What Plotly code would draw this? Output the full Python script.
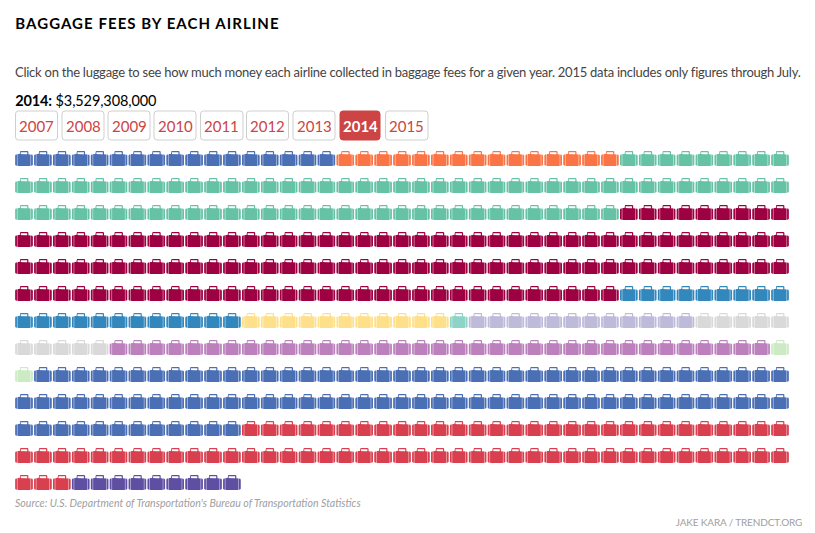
import plotly.graph_objects as go

# Series, in drawing order: number of suitcases for each airline in 2014
counts = [17, 15, 82, 123, 21, 11, 1, 12, 10, 35, 2, 93, 73, 9]
colors = ["#4a6fb5", "#fb7446", "#66c2a5", "#9e0142", "#3288bd", "#fee08b", "#8dd3c7",
          "#bebada", "#d9d9d9", "#bc80bd", "#ccebc5", "#4a6fb5", "#d9404f", "#5e4fa2"]
years = ["2007", "2008", "2009", "2010", "2011", "2012", "2013", "2014", "2015"]
button_left = [15.5, 62, 108, 154, 200.5, 246.5, 293, 340, 385.5]
button_right = [57.5, 104, 150, 196, 243, 288.5, 335, 380, 428]
selected = "2014"

PER_ROW = 41
CELL_W = 18.9
ROW_H = 27
X0 = 15.0
Y0 = 151.0

# suitcase outline pieces, in px relative to the top-left of a cell
PIECES = [
    [(3.0, 3.0), (15.0, 3.0), (15.4, 3.4), (15.4, 14.6), (15.0, 15.0), (3.0, 15.0), (2.6, 14.6), (2.6, 3.4)],
    [(0.9, 3.8), (1.9, 3.4), (1.9, 14.8), (0.9, 14.6), (0.2, 13.8), (0.2, 4.6)],
    [(16.1, 3.4), (17.1, 3.8), (17.8, 4.6), (17.8, 13.8), (17.1, 14.6), (16.1, 14.8)],
    [(4.6, 3.4), (4.6, 0.7), (5.3, 0.0), (12.7, 0.0), (13.4, 0.7), (13.4, 3.4), (12.2, 3.4),
     (12.2, 1.2), (5.8, 1.2), (5.8, 3.4)],
]
# lighter band that fills the slim gaps between a case and its side pockets
TINT = [(0.4, 3.6), (17.6, 3.6), (17.6, 14.8), (0.4, 14.8)]

fig = go.Figure()
idx = 0
for count, color in zip(counts, colors):
    xs, ys, tx, ty = [], [], [], []
    for _ in range(count):
        row, col = divmod(idx, PER_ROW)
        ox, oy = X0 + col * CELL_W, Y0 + row * ROW_H
        for piece in PIECES:
            xs += [ox + p[0] for p in piece] + [ox + piece[0][0], None]
            ys += [oy + p[1] for p in piece] + [oy + piece[0][1], None]
        tx += [ox + p[0] for p in TINT] + [ox + TINT[0][0], None]
        ty += [oy + p[1] for p in TINT] + [oy + TINT[0][1], None]
        idx += 1
    fig.add_trace(go.Scatter(x=tx, y=ty, mode="lines", fill="toself", fillcolor=color, opacity=0.4,
                             line=dict(width=0, color=color), hoverinfo="skip", showlegend=False))
    fig.add_trace(go.Scatter(x=xs, y=ys, mode="lines", fill="toself", fillcolor=color,
                             line=dict(width=0, color=color), hoverinfo="skip", showlegend=False))


def rounded(x0, y0, x1, y1, r=3):
    return (f"M{x0+r},{y0} L{x1-r},{y0} Q{x1},{y0} {x1},{y0+r} L{x1},{y1-r} Q{x1},{y1} {x1-r},{y1} "
            f"L{x0+r},{y1} Q{x0},{y1} {x0},{y1-r} L{x0},{y0+r} Q{x0},{y0} {x0+r},{y0} Z")


shapes, annotations = [], []
for year, left, right in zip(years, button_left, button_right):
    on = year == selected
    shapes.append(dict(type="path", path=rounded(left, 111, right, 140), xref="x", yref="y", layer="below",
                       fillcolor="#cc4444" if on else "#ffffff",
                       line=dict(color="#cc4444" if on else "#cfcfcf", width=1)))
    annotations.append(dict(x=(left + right) / 2, y=126, text=f"<b>{year}</b>" if on else year, showarrow=False,
                            xanchor="center", yanchor="middle",
                            font=dict(family="Lato", size=15, color="#ffffff" if on else "#cc4444")))


def label(x, y, text, size, color):
    annotations.append(dict(x=x, y=y, text=text, showarrow=False, xanchor="center", yanchor="middle",
                            font=dict(family="Lato", size=size, color=color)))


label(147, 23, "<b>BAGGAGE FEES BY EACH AIRLINE</b>", 15, "#000000")
label(407.5, 72, "Click on the luggage to see how much money each airline collected in baggage fees for a given year. "
                 "2015 data includes only figures through July.", 13, "#444444")
label(85.5, 100, "<b>2014:</b> $3,529,308,000", 14.5, "#000000")
label(187.5, 503, "<i>Source: U.S. Department of Transportation's Bureau of Transportation Statistics</i>", 10.6, "#a0a0a0")
label(739, 522, "JAKE KARA / TRENDCT.ORG", 10, "#a0a0a0")

fig.update_layout(
    width=815, height=533, margin=dict(l=0, r=0, t=0, b=0),
    paper_bgcolor="#ffffff", plot_bgcolor="#ffffff",
    xaxis=dict(range=[0, 815], visible=False, fixedrange=True),
    yaxis=dict(range=[533, 0], visible=False, fixedrange=True),
    shapes=shapes, annotations=annotations, font=dict(family="Lato"),
)

post = """
document.body.style.margin = '0';
var spacing = {'BAGGAGE': '1.05px', 'Click': '-0.25px', '2014:': '-0.12px', 'JAKE': '-0.15px'};
document.querySelectorAll('.annotation-text').forEach(function (t) {
  Object.keys(spacing).forEach(function (k) {
    if (t.textContent.indexOf(k) === 0) { t.style.letterSpacing = spacing[k]; }
  });
});
"""
fig.write_html("out.html", config={"displayModeBar": False}, post_script=post)
